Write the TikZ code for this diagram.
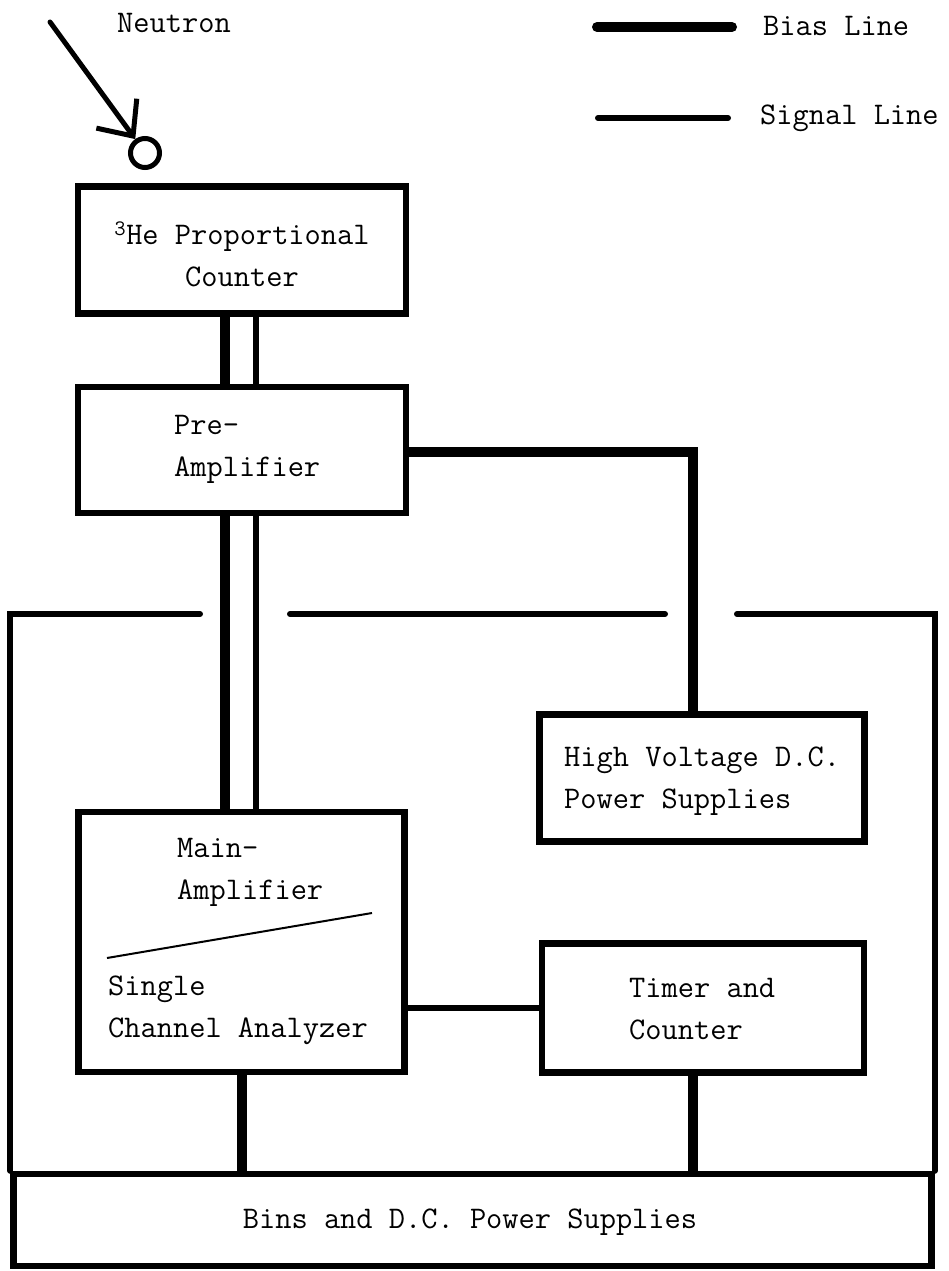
\documentclass[tikz,border=0pt]{standalone}
\usepackage{fontspec}
\usetikzlibrary{arrows.meta}
\begin{document}
\begin{tikzpicture}[x=1pt,y=-1pt,
  txt/.style={font=\ttfamily\fontsize{31.5}{42}\selectfont\addfontfeature{FakeBold=1.2}, inner sep=0pt, align=left},
  boxx/.style={draw, line width=6.5pt, inner sep=0pt},
  bias/.style={line width=10pt},
  sig/.style={line width=6pt},
  rack/.style={line width=6pt, line cap=round},
  thinline/.style={line width=2pt}
]
\useasboundingbox (0,0) rectangle (948,1271);
% boxes
\node[boxx, minimum width=328pt, minimum height=127pt] (cnt) at (242,250) {};
\node[boxx, minimum width=328pt, minimum height=126pt] (pre) at (242,450) {};
\node[boxx, minimum width=325pt, minimum height=127pt] (hv) at (702,778) {};
\node[boxx, minimum width=326pt, minimum height=260pt] (main) at (241.5,942) {};
\node[boxx, minimum width=322pt, minimum height=129pt] (tim) at (703,1008) {};
\node[boxx, minimum width=918pt, minimum height=92pt] (bins) at (472.5,1220) {};
% texts
\node[txt, align=center] (cntT) at (242,254) {\textsuperscript{3}He Proportional\\Counter};
\node[txt, anchor=west] (preT) at (174,449) {Pre-\\Amplifier};
\node[txt, anchor=west] (hvT) at (564,781) {High Voltage D.C.\\Power Supplies};
\node[txt, anchor=west] (mainT1) at (177,872) {Main-\\Amplifier};
\node[txt, anchor=west] (mainT2) at (108,1010) {Single\\Channel Analyzer};
\node[txt, anchor=west] (timT) at (629,1009) {Timer and\\Counter};
\node[txt] (binsT) at (470,1222) {Bins and D.C. Power Supplies};
\node[txt] (neutT) at (174,23) {Neutron};
\node[txt, anchor=west] (biasT) at (763,26) {Bias Line};
\node[txt, anchor=west] (sigT) at (760,118) {Signal Line};
% legend
\coordinate (b1) at (597,27); \coordinate (b2) at (732,27);
\draw[bias, line cap=round] (b1) -- (b2);
\coordinate (s1) at (598,118); \coordinate (s2) at (728,118);
\draw[sig, line cap=round] (s1) -- (s2);
% neutron
\coordinate (nstart) at (50,22);
\node[draw, circle, line width=5pt, minimum size=29pt, inner sep=0pt] (det) at (145,153) {};
\draw[line width=5pt, line cap=round, -{Straight Barb[length=28pt,width=50pt]}] (nstart) -- (det.125);
% double lines
\draw[bias] ([xshift=-17pt]cnt.south) -- ([xshift=-17pt]cnt.south |- pre.north);
\draw[sig] ([xshift=14pt]cnt.south) -- ([xshift=14pt]cnt.south |- pre.north);
\draw[bias] ([xshift=-17pt]pre.south) -- ([xshift=-17pt]pre.south |- main.north);
\draw[sig] ([xshift=14pt]pre.south) -- ([xshift=14pt]pre.south |- main.north);
% high voltage bias
\draw[bias] ([yshift=-2pt]pre.east) -| ([xshift=-9pt]hv.north);
% main to timer
\draw[sig] (main.east |- tim.west) -- (tim.west);
% to bins
\draw[bias] (main.south) -- (main.south |- bins.north);
\draw[bias] ([xshift=-10pt]tim.south) -- ([xshift=-10pt]tim.south |- bins.north);
% diagonal divider
\coordinate (d1) at (107,958); \coordinate (d2) at (372,913);
\draw[thinline] (d1) -- (d2);
% rack outline
\coordinate (r1) at (200,614); \coordinate (r2) at (290,614);
\coordinate (r3) at (665,614); \coordinate (r4) at (737,614);
\draw[rack] (bins.north west) -- (bins.north west |- r1) -- (r1);
\draw[rack] (r2) -- (r3);
\draw[rack] (r4) -- (r4 -| bins.north east) -- (bins.north east);
\end{tikzpicture}
\end{document}
